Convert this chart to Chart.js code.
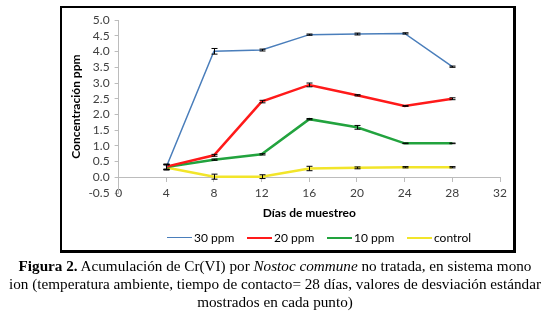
<!DOCTYPE html>
<html>
<head>
<meta charset="utf-8">
<script src="https://cdn.jsdelivr.net/npm/chart.js@4/dist/chart.umd.min.js"></script>
<style>
  html, body { margin: 0; padding: 0; background: #fff; }
  #frame { position: absolute; left: 60px; top: 6px; width: 451px; height: 242px;
           border-style: solid; border-color: #000; border-width: 2px 3px 3px 2px; }
  #legend { position: absolute; left: 167px; top: 230px; height: 16px; font-family: Lato, sans-serif;
            font-size: 12px; color: #000; white-space: nowrap; }
  #legend .item { position: absolute; top: 0; height: 16px; line-height: 16px; }
  #legend .swatch { position: absolute; left: 0; top: 8px; width: 25px; }
  #legend .txt { position: absolute; left: 27px; top: 0; }
  #cap { position: absolute; left: 0; top: 257px; width: 550px; text-align: center;
         font-family: 'Liberation Serif', 'Times New Roman', serif; font-size: 15.2px;
         line-height: 18px; color: #000; }
</style>
</head>
<body>
<div id="frame"><canvas id="c"></canvas></div>
<div id="legend"></div>
<div id="cap"><b>Figura 2.</b> Acumulación de Cr(VI) por <i>Nostoc commune</i> no tratada, en sistema mono<br>ion (temperatura ambiente, tiempo de contacto= 28 días, valores de desviación estándar<br>mostrados en cada punto)</div>
<script>
// ---- data ----
const days = [4, 8, 12, 16, 20, 24, 28];
const seriesNames = ['30 ppm', '20 ppm', '10 ppm', 'control'];
const ppm30   = [0.33, 4.01, 4.05, 4.54, 4.56, 4.58, 3.52];
const ppm20   = [0.34, 0.70, 2.41, 2.94, 2.61, 2.27, 2.50];
const ppm10   = [0.33, 0.56, 0.73, 1.85, 1.59, 1.08, 1.08];
const control = [0.31, 0.02, 0.02, 0.28, 0.30, 0.32, 0.32];
const err30   = [0.08, 0.09, 0.03, 0.02, 0.03, 0.02, 0.02];
const err20   = [0.08, 0.03, 0.04, 0.06, 0.02, 0.01, 0.03];
const err10   = [0.08, 0.02, 0.02, 0.02, 0.06, 0.01, 0.01];
const errCtrl = [0.08, 0.08, 0.06, 0.07, 0.03, 0.02, 0.02];
const xMin = 0, xMax = 32, xStep = 4;
const yMin = -0.5, yMax = 5.0, yStep = 0.5;

const values = [ppm30, ppm20, ppm10, control];
const errors = [err30, err20, err10, errCtrl];
const colors = ['#4a7ebb', '#ff1a1a', '#22a33e', '#f2e52a'];
const widths = [1.5, 2.5, 2.5, 2.5];

// HTML legend (real text)
const lg = document.getElementById('legend');
seriesNames.forEach((n, i) => {
  const it = document.createElement('div');
  it.className = 'item';
  it.style.left = (i * 80) + 'px';
  const sw = document.createElement('div');
  sw.className = 'swatch';
  sw.style.borderTop = widths[i] + 'px solid ' + colors[i];
  sw.style.top = (8 - widths[i] / 2) + 'px';
  const tx = document.createElement('span');
  tx.className = 'txt';
  tx.textContent = n;
  it.appendChild(sw); it.appendChild(tx);
  lg.appendChild(it);
});

const errorBars = {
  id: 'errorBars',
  afterDatasetsDraw(chart) {
    const ctx = chart.ctx, xs = chart.scales.x, ys = chart.scales.y;
    ctx.save();
    ctx.strokeStyle = '#000';
    ctx.lineWidth = 1;
    values.forEach((vals, i) => {
      vals.forEach((v, j) => {
        const e = errors[i][j];
        if (!e) return;
        const px = Math.round(xs.getPixelForValue(days[j])) + 0.5;
        const pt = ys.getPixelForValue(v + e), pb = ys.getPixelForValue(v - e);
        ctx.beginPath();
        ctx.moveTo(px, pt); ctx.lineTo(px, pb);
        ctx.moveTo(px - 3, pt); ctx.lineTo(px + 3, pt);
        ctx.moveTo(px - 3, pb); ctx.lineTo(px + 3, pb);
        ctx.stroke();
      });
    });
    ctx.restore();
  }
};

const font = 'Lato';
new Chart(document.getElementById('c'), {
  type: 'line',
  data: {
    datasets: seriesNames.map((n, i) => ({
      label: n,
      data: days.map((d, j) => ({x: d, y: values[i][j]})),
      borderColor: colors[i],
      backgroundColor: colors[i],
      borderWidth: widths[i],
      pointRadius: 0,
      tension: 0,
      fill: false
    }))
  },
  options: {
    responsive: true,
    maintainAspectRatio: false,
    animation: false,
    events: [],
    layout: { padding: { left: 1, right: 13, top: 12, bottom: 57 } },
    scales: {
      x: {
        type: 'linear', min: xMin, max: xMax,
        position: { y: 0 },
        ticks: { stepSize: xStep, autoSkip: false, padding: 5, color: '#404040', font: { family: font, size: 12 } },
        grid: { drawOnChartArea: false, drawTicks: true, tickLength: 4, color: '#bcbcbc' },
        border: { color: '#bcbcbc' },
        title: { display: true, text: 'Días de muestreo', color: '#000',
                 font: { family: font, size: 12, weight: 'bold' }, padding: { top: 0, bottom: 0 } }
      },
      y: {
        type: 'linear', min: yMin, max: yMax,
        ticks: { stepSize: yStep, autoSkip: false, padding: 5, color: '#404040', font: { family: font, size: 12 },
                 callback: v => v.toFixed(1) },
        grid: { drawOnChartArea: false, drawTicks: true, tickLength: 4, color: '#bcbcbc' },
        border: { color: '#bcbcbc' },
        title: { display: true, text: 'Concentración ppm', color: '#000',
                 font: { family: font, size: 12, weight: 'bold' }, padding: { top: 6, bottom: 0 } }
      }
    },
    plugins: {
      legend: { display: false },
      tooltip: { enabled: false }
    }
  },
  plugins: [errorBars]
});
</script>
</body>
</html>
